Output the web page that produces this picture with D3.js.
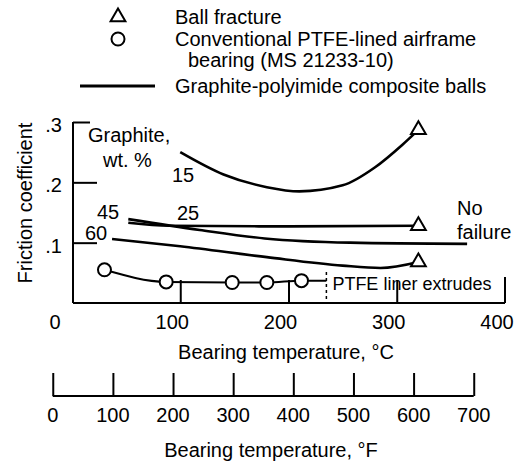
<!DOCTYPE html>
<html><head><meta charset="utf-8">
<script src="https://cdn.jsdelivr.net/npm/d3@7"></script>
<style>
body{margin:0;background:#fff;}
text{font-family:"Liberation Sans",Arial,Helvetica,sans-serif;fill:#000;}
</style></head>
<body><svg id="c" width="530" height="464"></svg>
<script>
// ---- data ----
const cTicks = [0, 100, 200, 300, 400];
const fTicks = [0, 100, 200, 300, 400, 500, 600, 700];
const yTicks = [0.1, 0.2, 0.3];
const gradeLabels = ["15", "25", "45", "60"];
const temp15 = [100, 140, 180, 210, 250, 280, 305, 320];
const fric15 = [0.25, 0.213, 0.192, 0.185, 0.195, 0.225, 0.262, 0.287];
const temp25 = [52, 90, 200, 320];
const fric25 = [0.133, 0.128, 0.127, 0.128];
const temp45 = [52, 118, 178, 257, 365];
const fric45 = [0.139, 0.121, 0.107, 0.1, 0.098];
const temp60 = [37, 100, 180, 250, 285, 320];
const fric60 = [0.106, 0.094, 0.076, 0.062, 0.058, 0.068];
const fractureTemp = [320, 320, 320];
const fractureFric = [0.287, 0.128, 0.068];
const ptfeTemp = [30, 87, 148, 180, 212];
const ptfeFric = [0.055, 0.035, 0.034, 0.034, 0.037];
const ptfeLineTemp = [30, 87, 148, 180, 212, 235];
const ptfeLineFric = [0.055, 0.035, 0.034, 0.034, 0.037, 0.037];
const extrudeTemp = 235;

const svg = d3.select("#c");
const x = d3.scaleLinear().domain([0, 400]).range([72, 505]);
const y = d3.scaleLinear().domain([0, 0.3]).range([303, 122]);
const xF = d3.scaleLinear().domain([0, 700]).range([x((0 - 32) / 1.8), x((700 - 32) / 1.8)]);

const fs = 20;
// ---- legend ----
const lg = svg.append("g");
lg.append("path").attr("d", d3.symbol(d3.symbolTriangle, 95)())
  .attr("transform", "translate(118,17)").attr("fill", "#fff").attr("stroke", "#000").attr("stroke-width", 2);
lg.append("circle").attr("cx", 118).attr("cy", 39).attr("r", 6.5).attr("fill", "#fff").attr("stroke", "#000").attr("stroke-width", 2);
lg.append("line").attr("x1", 80).attr("x2", 155).attr("y1", 86).attr("y2", 86).attr("stroke", "#000").attr("stroke-width", 3);
const lt = [["Ball fracture", 175, 17], ["Conventional PTFE-lined airframe", 175, 39], ["bearing (MS 21233-10)", 188, 60], ["Graphite-polyimide composite balls", 175, 86]];
lg.selectAll("text").data(lt).join("text").attr("x", d => d[1]).attr("y", d => d[2])
  .attr("dy", "0.35em").attr("font-size", fs).text(d => d[0]);

// ---- y axis ----
svg.append("line").attr("x1", 73).attr("x2", 73).attr("y1", y(0.3)).attr("y2", y(0)).attr("stroke", "#000").attr("stroke-width", 2);
const ya = svg.append("g").attr("transform", "translate(73,0)")
  .call(d3.axisRight(y).tickValues(yTicks).tickSize(24).tickFormat(""));
ya.select(".domain").remove();
ya.selectAll(".tick line").attr("stroke", "#000").attr("stroke-width", 2)
  .attr("x2", d => d === 0.3 ? 17 : 24);
const yl = svg.append("g").attr("transform", "translate(62,3)")
  .call(d3.axisLeft(y).tickValues(yTicks).tickSize(0).tickPadding(0).tickFormat(d => d3.format(".1f")(d).replace(/^0/, "")));
yl.select(".domain").remove();
yl.selectAll("text").attr("font-size", fs).attr("font-family", null);
svg.append("text").attr("transform", "translate(25,203) rotate(-90)")
  .attr("text-anchor", "middle").attr("dy", "0.35em").attr("font-size", fs).text("Friction coefficient");

// ---- bottom C axis ----
svg.append("line").attr("x1", 73).attr("x2", x(400)).attr("y1", y(0)).attr("y2", y(0)).attr("stroke", "#000").attr("stroke-width", 2);
const xa = svg.append("g").attr("transform", "translate(0," + y(0) + ")")
  .call(d3.axisTop(x).tickValues([100, 200, 300]).tickSize(23).tickFormat(""));
xa.select(".domain").remove();
xa.selectAll(".tick line").attr("stroke", "#000").attr("stroke-width", 2);
svg.append("g").selectAll("text").data(cTicks).join("text")
  .attr("x", d => x(d) - (d === 0 ? 17 : 8)).attr("y", 322).attr("dy", "0.35em")
  .attr("text-anchor", "middle").attr("font-size", fs).text(d => d);
svg.append("text").attr("x", 286).attr("y", 352).attr("dy", "0.35em").attr("text-anchor", "middle")
  .attr("font-size", fs).text("Bearing temperature, °C");
// extrusion region
svg.append("line").attr("x1", x(400)).attr("x2", x(400)).attr("y1", 277).attr("y2", y(0)).attr("stroke", "#000").attr("stroke-width", 2);
svg.append("line").attr("x1", x(extrudeTemp)).attr("x2", x(extrudeTemp)).attr("y1", 272).attr("y2", y(0))
  .attr("stroke", "#000").attr("stroke-width", 1.5).attr("stroke-dasharray", "3,3");
svg.append("text").attr("x", x(extrudeTemp) + 6).attr("y", 284).attr("dy", "0.35em").attr("font-size", 18).text("PTFE liner extrudes");

// ---- F axis ----
const fy = 396;
svg.append("g").attr("transform", "translate(0," + fy + ")")
  .call(d3.axisTop(xF).tickValues(fTicks).tickSize(23).tickFormat(""))
  .call(g => g.select(".domain").remove())
  .call(g => g.selectAll(".tick line").attr("stroke", "#000").attr("stroke-width", 2));
svg.append("line").attr("x1", xF(0)).attr("x2", xF(700)).attr("y1", fy).attr("y2", fy).attr("stroke", "#000").attr("stroke-width", 2);
svg.append("g").selectAll("text").data(fTicks).join("text")
  .attr("x", d => xF(d)).attr("y", 415).attr("dy", "0.35em")
  .attr("text-anchor", "middle").attr("font-size", fs).text(d => d);
svg.append("text").attr("x", 271).attr("y", 450).attr("dy", "0.35em").attr("text-anchor", "middle")
  .attr("font-size", fs).text("Bearing temperature, °F");

// ---- curves ----
const line = d3.line().x(d => x(d[0])).y(d => y(d[1])).curve(d3.curveMonotoneX);
const series = [[temp15, fric15], [temp25, fric25], [temp45, fric45], [temp60, fric60]];
svg.append("g").selectAll("path").data(series).join("path")
  .attr("d", s => line(d3.zip(s[0], s[1]))).attr("fill", "none").attr("stroke", "#000").attr("stroke-width", 2.6);
svg.append("path").attr("d", line(d3.zip(ptfeLineTemp, ptfeLineFric))).attr("fill", "none").attr("stroke", "#000").attr("stroke-width", 2);
svg.append("g").selectAll("circle").data(d3.zip(ptfeTemp, ptfeFric)).join("circle")
  .attr("cx", d => x(d[0])).attr("cy", d => y(d[1])).attr("r", 6.5)
  .attr("fill", "#fff").attr("stroke", "#000").attr("stroke-width", 2);
svg.append("g").selectAll("path").data(d3.zip(fractureTemp, fractureFric)).join("path")
  .attr("d", d3.symbol(d3.symbolTriangle, 95)())
  .attr("transform", d => "translate(" + x(d[0]) + "," + y(d[1]) + ")")
  .attr("fill", "#fff").attr("stroke", "#000").attr("stroke-width", 2);

// ---- annotations ----
const ann = [["Graphite,", 88, 135], ["wt. %", 103, 160], [gradeLabels[0], 172, 175], [gradeLabels[2], 97, 212],
  [gradeLabels[1], 177, 213], [gradeLabels[3], 85, 233], ["No", 457, 208], ["failure", 457, 232]];
svg.append("g").selectAll("text").data(ann).join("text")
  .attr("x", d => d[1]).attr("y", d => d[2]).attr("dy", "0.35em").attr("font-size", fs).text(d => d[0]);
</script></body></html>
